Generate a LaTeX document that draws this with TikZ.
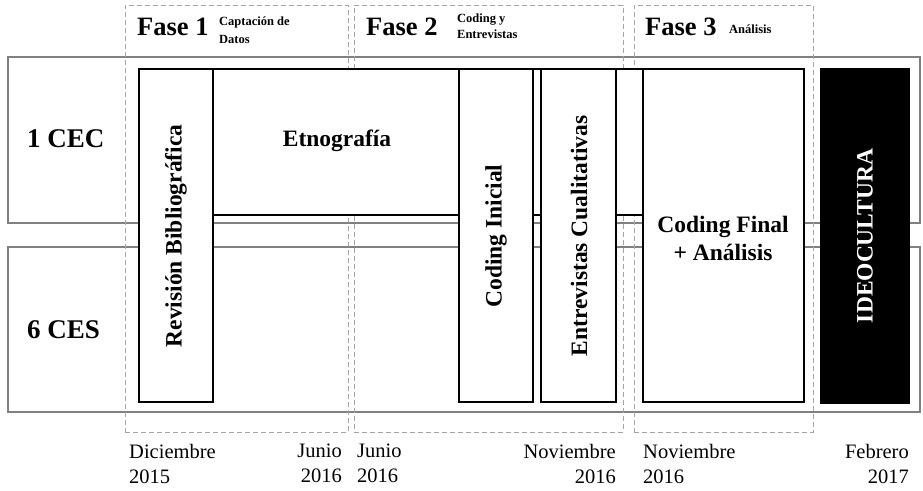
\documentclass[tikz,border=0pt]{standalone}
\usepackage{fontspec}
\setmainfont{Liberation Serif}
\definecolor{rowgray}{RGB}{128,128,128}
\definecolor{dashgray}{RGB}{165,165,165}
\tikzset{
  rowbox/.style={draw=rowgray, line width=1.5pt, inner sep=0pt, outer sep=0pt},
  phasebox/.style={draw=dashgray, line width=0.8pt, dash pattern=on 5pt off 3pt, inner sep=0pt, outer sep=0pt},
  taskbox/.style={draw=black, fill=white, line width=2pt, inner sep=0pt, outer sep=0pt},
  blackbox/.style={draw=black, fill=black, line width=2pt, inner sep=0pt, outer sep=0pt},
  tasktext/.style={font=\fontsize{23.5}{28}\selectfont\bfseries, inner sep=0pt, align=center},
  rowtext/.style={font=\fontsize{27}{30}\selectfont\bfseries, inner sep=0pt, anchor=base west},
  fasetext/.style={font=\fontsize{26.5}{30}\selectfont\bfseries, inner sep=0pt, anchor=base west},
  subtext/.style={font=\fontsize{12.5}{17}\selectfont\bfseries, inner sep=0pt, align=left},
  datetext/.style={font=\fontsize{20.5}{25}\selectfont, inner sep=0pt}
}
\begin{document}
\begin{tikzpicture}[x=1pt,y=-1pt]
\useasboundingbox (0,0) rectangle (923,490);
% rows
\node[rowbox, minimum width=912pt, minimum height=166pt] (row1) at (464,140) {};
\node[rowbox, minimum width=912pt, minimum height=165pt] (row2) at (464,329.5) {};
% phases
\node[phasebox, minimum width=223pt, minimum height=427pt] (fase1) at (236.5,218.5) {};
\node[phasebox, minimum width=269pt, minimum height=427pt] (fase2) at (488.5,218.5) {};
\node[phasebox, minimum width=179pt, minimum height=427pt] (fase3) at (723.5,218.5) {};
% tasks
\node[taskbox, minimum width=430pt, minimum height=146pt] (etno) at (428,142) {};
\node[taskbox, minimum width=74pt, minimum height=333pt] (rev) at (176,235.5) {};
\node[taskbox, minimum width=74pt, minimum height=333pt] (codi) at (496,235.5) {};
\node[taskbox, minimum width=75pt, minimum height=333pt] (entr) at (578.5,235.5) {};
\node[taskbox, minimum width=161pt, minimum height=333pt] (codf) at (723.5,235.5) {};
\node[blackbox, minimum width=88pt, minimum height=334pt] (ideo) at (865,236) {};
% task labels
\node[tasktext, anchor=base] (etnot) at (337,146) {Etnografía};
\node[tasktext, rotate=90] (revt) at (176,236) {Revisión Bibliográfica};
\node[tasktext, rotate=90] (codit) at (496,236) {Coding Inicial};
\node[tasktext, rotate=90] (entrt) at (579,236) {Entrevistas Cualitativas};
\node[tasktext] (codft) at (723,238) {Coding Final\\+ Análisis};
\node[tasktext, rotate=90, text=white] (ideot) at (865,236) {IDEOCULTURA};
% row labels
\node[rowtext] (cec) at (27,147) {1 CEC};
\node[rowtext] (ces) at (27,338) {6 CES};
% phase titles
\node[fasetext] (f1) at (137,35) {Fase 1};
\node[subtext, anchor=north west, font=\fontsize{12.5}{17.5}\selectfont\bfseries] (f1s) at (219,17) {Captación de\\Datos};
\node[fasetext] (f2) at (366,35) {Fase 2};
\node[subtext, anchor=north west, font=\fontsize{12.5}{16}\selectfont\bfseries] (f2s) at (457,14) {Coding y\\Entrevistas};
\node[fasetext] (f3) at (645,35) {Fase 3};
\node[subtext, anchor=base west] (f3s) at (729,33) {Análisis};
% dates
\node[datetext, anchor=north west, align=left] (d1) at (129,444) {Diciembre\\2015};
\node[datetext, anchor=north east, align=right] (d2) at (342,444) {Junio\\2016};
\node[datetext, anchor=north west, align=left] (d3) at (357,444) {Junio\\2016};
\node[datetext, anchor=north east, align=right] (d4) at (616,444) {Noviembre\\2016};
\node[datetext, anchor=north west, align=left] (d5) at (643,444) {Noviembre\\2016};
\node[datetext, anchor=north east, align=right] (d6) at (909,444) {Febrero\\2017};
\end{tikzpicture}
\end{document}
